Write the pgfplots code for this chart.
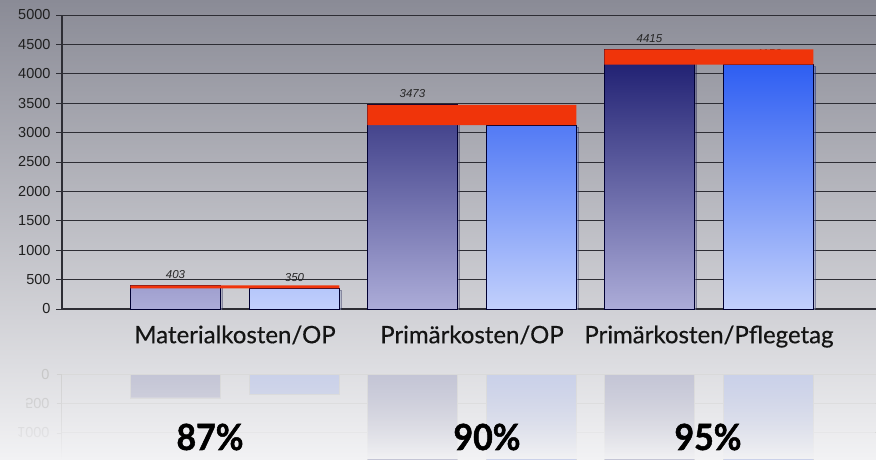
\documentclass[border=0pt]{standalone}
\usepackage{pgfplots}
\usepackage{pgfplotstable}
\pgfplotsset{compat=1.18}
\usepackage{fontspec}
\setmainfont{Liberation Sans}
\newfontfamily\gill{Lato}[FakeBold=0.4]
\newfontfamily\gillheavy{Lato}[BoldFeatures={FakeBold=1.4, FakeStretch=0.94}]
\usetikzlibrary{fadings,shadows}
\definecolor{bartopA}{RGB}{26,26,110}
\definecolor{barbotA}{RGB}{172,172,216}
\definecolor{bartopB}{RGB}{46,94,242}
\definecolor{barbotB}{RGB}{194,208,252}
\definecolor{redbar}{RGB}{240,52,10}
\definecolor{bgtop}{RGB}{138,139,150}
\definecolor{bgmid}{RGB}{186,187,194}
\definecolor{bgbot}{RGB}{242,242,244}
\definecolor{bgrefl}{RGB}{223,223,227}
\definecolor{reflA}{RGB}{196,197,214}
\definecolor{reflB}{RGB}{202,209,234}
\definecolor{gridc}{RGB}{45,45,52}
\tikzfading[name=reflfade, top color=transparent!100, middle color=transparent!35, bottom color=transparent!0]

\pgfplotstableread{
x v1 v2 diff
0 403 350 53
1 3473 3126 347
2 4415 4156 259
}\data

\begin{document}
\begin{tikzpicture}
\useasboundingbox (0,0) rectangle (876pt,459pt);
\shade[top color=bgtop, middle color=bgmid, bottom color=bgbot] (0,0) rectangle (876pt,459pt);
\begin{scope}
\clip (0,0) rectangle (876pt,459pt);

% reflection
\begin{axis}[
  at={(62pt,0pt)}, anchor=south west, scale only axis,
  width=814pt, height=85pt,
  xmin=-0.73, xmax=2.705, ymin=0, ymax=1445, y dir=reverse,
  axis x line=none, axis y line=left, axis line style={-, draw=black!18, line width=1pt},
  ytick={0,500,1000}, ymajorgrids, grid style={black!15, line width=0.8pt},
  xtick=\empty,
  tick align=outside, major tick length=5pt, ytick style={draw=black!18},
  yticklabel style={yscale=-1, text=black!22, font=\fontsize{14.5}{14.5}\selectfont, xshift=-4pt},
  /pgf/number format/assume math mode=true, /pgf/number format/1000 sep={},
  ybar, bar width=90pt,
]
\addplot[bar shift=-59.5pt, fill=reflA, draw=black!15] table[x=x,y=v1]{\data};
\addplot[bar shift=59.5pt, fill=reflB, draw=black!15] table[x=x,y=v2]{\data};
\end{axis}
\shade[top color=bgrefl, bottom color=bgbot, path fading=reflfade] (0,0) rectangle (876pt,86pt);

% main chart
\begin{axis}[
  at={(62pt,150pt)}, anchor=south west, scale only axis,
  width=814pt, height=294pt,
  xmin=-0.73, xmax=2.705, ymin=0, ymax=5000,
  axis lines=left, axis line style={-, draw=gridc, line width=1.2pt},
  ytick={0,500,...,5000}, ymajorgrids, grid style={gridc, line width=0.9pt},
  xtick={0,1,2}, xticklabels={Materialkosten/OP, Primärkosten/OP, Primärkosten/Pflegetag},
  x tick style={draw=none},
  tick align=outside, major tick length=6pt, ytick style={draw=gridc, line width=0.9pt},
  yticklabel style={font=\fontsize{14.5}{14.5}\selectfont, text=black!88, xshift=-2pt},
  xticklabel style={font=\gill\fontsize{24}{24}\selectfont, text=black!92, yshift=-7pt},
  /pgf/number format/assume math mode=true, /pgf/number format/1000 sep={},
  ybar, bar width=90pt,
  nodes near coords,
  every node near coord/.append style={font=\itshape\fontsize{11.5}{11.5}\selectfont, text=black!85, yshift=3pt},
]
\addplot[bar shift=-59.5pt, top color=bartopA, bottom color=barbotA, draw=black!80!blue, line width=0.8pt,
  drop shadow={shadow xshift=2pt, shadow yshift=-2pt, opacity=0.3}] table[x=x,y=v1]{\data};
\addplot[bar shift=59.5pt, top color=bartopB, bottom color=barbotB, draw=black!80!blue, line width=0.8pt,
  drop shadow={shadow xshift=2pt, shadow yshift=-2pt, opacity=0.3}] table[x=x,y=v2]{\data};
\end{axis}

% difference bars
\begin{axis}[
  at={(62pt,150pt)}, anchor=south west, scale only axis,
  width=814pt, height=294pt,
  xmin=-0.73, xmax=2.705, ymin=0, ymax=5000,
  hide axis, ybar stacked, bar width=209pt,
]
\addplot[draw=none, fill=none] table[x=x,y=v2]{\data};
\addplot[draw=none, fill=redbar] table[x=x,y=diff]{\data};
\end{axis}

\node[font=\gillheavy\bfseries\fontsize{36}{36}\selectfont] at (210pt,22pt) {87\%};
\node[font=\gillheavy\bfseries\fontsize{36}{36}\selectfont] at (487pt,22pt) {90\%};
\node[font=\gillheavy\bfseries\fontsize{36}{36}\selectfont] at (708pt,22pt) {95\%};
\end{scope}
\end{tikzpicture}
\end{document}
